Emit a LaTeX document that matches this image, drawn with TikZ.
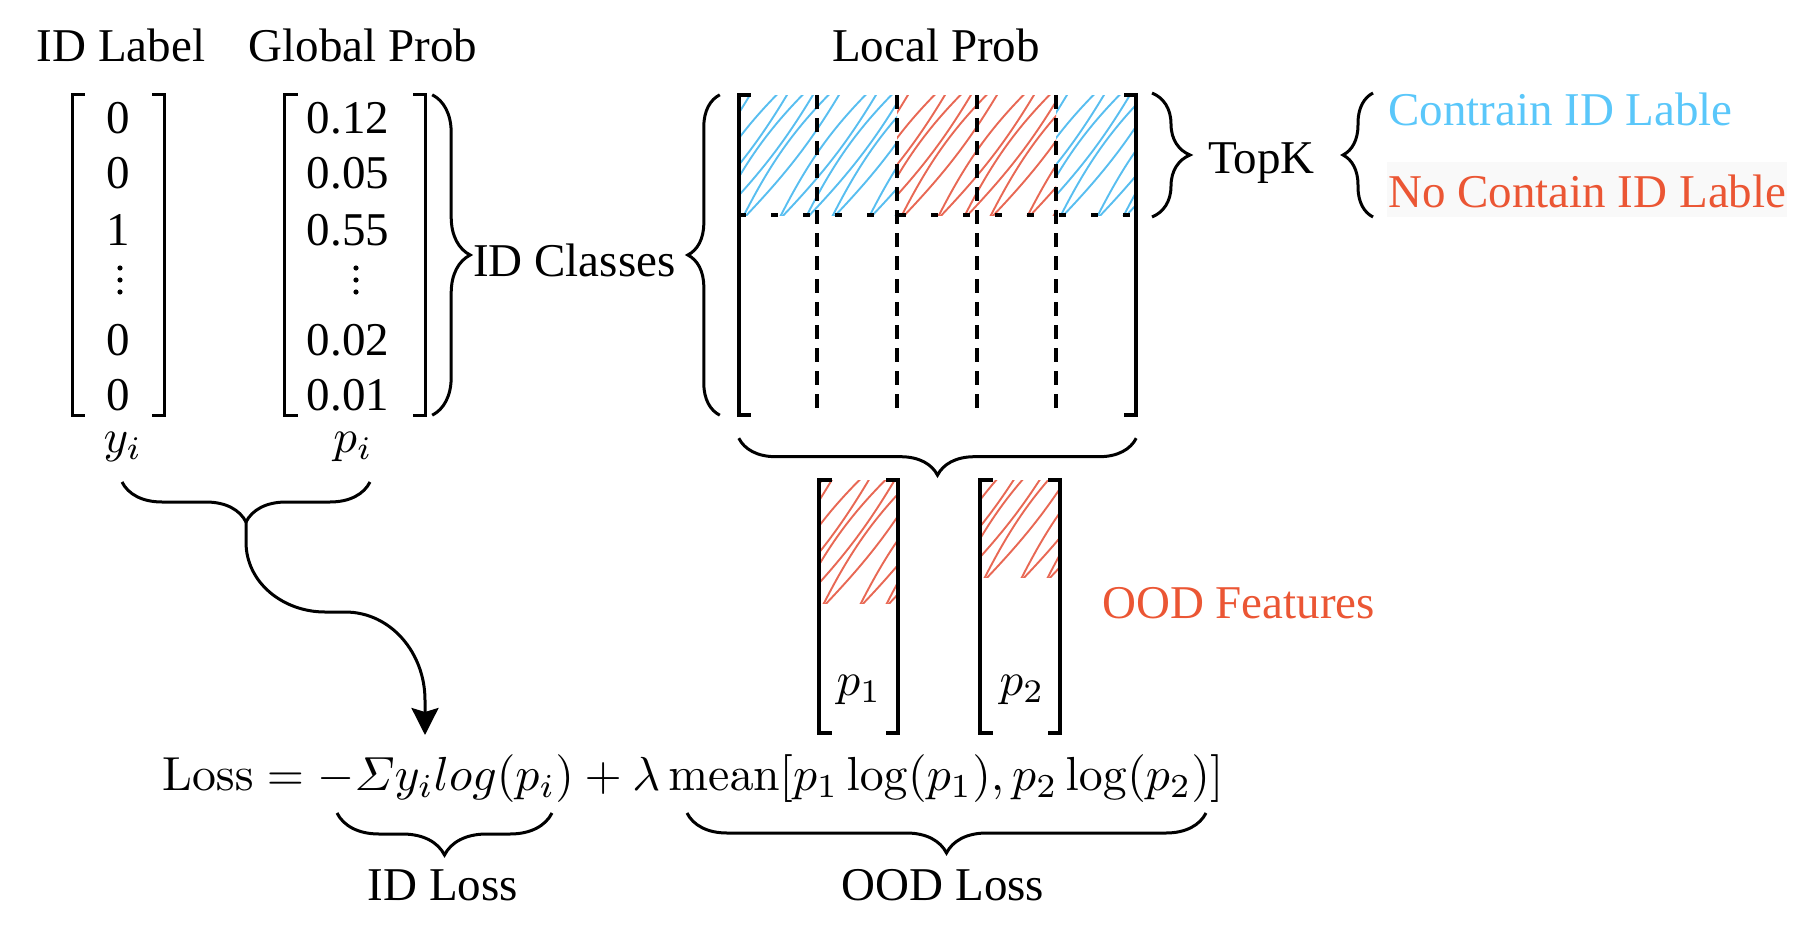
\RequirePackage{fix-cm}
\documentclass[tikz,border=0pt]{standalone}
\usepackage{amsmath}
\usepackage[no-math]{fontspec}
\setmainfont{Liberation Serif}
\usetikzlibrary{decorations.pathreplacing,arrows.meta,calc}
\definecolor{cblue}{RGB}{90,199,250}
\definecolor{cred}{RGB}{235,86,52}
\definecolor{hblue}{RGB}{88,190,240}
\definecolor{hred}{RGB}{232,104,84}
\definecolor{bggray}{RGB}{249,249,249}
\newcommand{\bigmath}[2][4.7]{\scalebox{#1}{$#2$}}
\newcommand{\hatchfill}[5]{%
  \begin{scope}
    \clip (#1,#2) rectangle (#3,#4);
    \foreach \k in {0,...,11}{
      \pgfmathsetmacro{\xs}{#1-150+\k*30+mod(\k*7,11)}
      \draw[#5,line width=1.9pt,line cap=round] (\xs,{#4+6}) to[bend left=10] ++(112,-150);
      \draw[#5,line width=1.9pt,line cap=round] (\xs,{#4+6}) to[bend right=7] ++(112,-150);
    }
  \end{scope}}
\begin{document}
\begin{tikzpicture}[x=1pt,y=-1pt,
  every node/.style={font=\fontsize{47}{56}\selectfont, inner sep=0pt},
  mnode/.style={font=\fontsize{10}{12}\selectfont, inner sep=0pt},
  matbox/.style={draw=none, rectangle, inner sep=0pt},
  brk/.style={line width=3pt, line join=miter},
  bbrk/.style={line width=4pt, line join=miter},
  curly/.style={decorate, decoration={brace, amplitude=#1}, line width=3pt},
  vdash/.style={line width=3.5pt, dash pattern=on 14pt off 9pt},
  hdash/.style={line width=4pt, dash pattern=on 7pt off 25pt},
  vdot/.style={fill=black}
]
\useasboundingbox (0,0) rectangle (1818,934);

% ---------- headings ----------
\node[anchor=base] (hid) at (121,62) {ID Label};
\node[anchor=base] (hglob) at (363,62) {Global Prob};
\node[anchor=base] (hloc) at (936,62) {Local Prob};

% ---------- y_i matrix ----------
\node[matbox, minimum width=91pt, minimum height=320pt] (ymat) at (118.5,255) {};
\draw[brk] ([xshift=12pt]ymat.north west) -- (ymat.north west) -- (ymat.south west) -- ([xshift=12pt]ymat.south west);
\draw[brk] ([xshift=-12pt]ymat.north east) -- (ymat.north east) -- (ymat.south east) -- ([xshift=-12pt]ymat.south east);
\node[anchor=base] (ya) at (118,133) {0};
\node[anchor=base] (yb) at (118,188) {0};
\node[anchor=base] (yc) at (118,245) {1};
\fill[vdot] (120,268) circle (2.6pt) (120,280) circle (2.6pt) (120,292) circle (2.6pt);
\node[anchor=base] (yd) at (118,355) {0};
\node[anchor=base] (ye) at (118,410) {0};
\node[mnode, anchor=base] (ylab) at (123,452) {\bigmath{y_i}};

% ---------- p_i matrix ----------
\node[matbox, minimum width=140pt, minimum height=320pt] (pmat) at (355,255) {};
\draw[brk] ([xshift=13pt]pmat.north west) -- (pmat.north west) -- (pmat.south west) -- ([xshift=13pt]pmat.south west);
\draw[brk] ([xshift=-12pt]pmat.north east) -- (pmat.north east) -- (pmat.south east) -- ([xshift=-12pt]pmat.south east);
\node[anchor=base] (pa) at (348,133) {0.12};
\node[anchor=base] (pb) at (348,188) {0.05};
\node[anchor=base] (pc) at (348,245) {0.55};
\fill[vdot] (356,268) circle (2.6pt) (356,280) circle (2.6pt) (356,292) circle (2.6pt);
\node[anchor=base] (pd) at (348,355) {0.02};
\node[anchor=base] (pe) at (348,410) {0.01};
\node[mnode, anchor=base] (plab) at (353,452) {\bigmath{p_i}};

% ID classes brace
\node[anchor=base west] (idc) at (473,276) {ID Classes};
\draw[curly=38] ([xshift=7pt]pmat.north east) -- ([xshift=7pt]pmat.south east);

% ---------- local prob matrix ----------
\node[matbox, minimum width=397pt, minimum height=320pt] (lmat) at (937.5,255) {};
\hatchfill{739}{95}{897}{215}{hblue}
\hatchfill{897}{95}{1056}{215}{hred}
\hatchfill{1056}{95}{1136}{215}{hblue}
\foreach \xx in {817,897,977,1056} \draw[vdash] (\xx,95) -- (\xx,415);
\draw[hdash] (739,215) -- (1136,215);
\draw[bbrk] ([xshift=12pt]lmat.north west) -- (lmat.north west) -- (lmat.south west) -- ([xshift=12pt]lmat.south west);
\draw[bbrk] ([xshift=-12pt]lmat.north east) -- (lmat.north east) -- (lmat.south east) -- ([xshift=-12pt]lmat.south east);
\draw[curly=32] ([xshift=-19pt]lmat.south west) -- ([xshift=-19pt]lmat.north west);

% TopK braces and labels
\draw[curly=38] (1152,93) -- (1152,217);
\node[anchor=base west] (topk) at (1208,173) {TopK};
\draw[curly=30] (1373,217) -- (1373,93);
\node[anchor=base west, text=cblue] (cont) at (1388,125) {Contrain ID Lable};
\node[anchor=base west, fill=bggray, inner xsep=1pt, inner ysep=0pt, text height=45pt, text depth=10pt, text=cred] (nocont) at (1387,207) {No Contain ID Lable};

% brace under local matrix
\draw[curly=37] ([yshift=-23pt]lmat.south east) -- ([yshift=-23pt]lmat.south west);

% ---------- OOD features ----------
\node[matbox, minimum width=79pt, minimum height=253pt] (p1mat) at (858.5,606.5) {};
\node[matbox, minimum width=80pt, minimum height=253pt] (p2mat) at (1020,606.5) {};
\hatchfill{819}{480}{898}{603}{hred}
\hatchfill{980}{480}{1060}{577}{hred}
\foreach \m in {p1mat,p2mat}{
  \draw[bbrk] ([xshift=13pt]\m.north west) -- (\m.north west) -- (\m.south west) -- ([xshift=13pt]\m.south west);
  \draw[bbrk] ([xshift=-12pt]\m.north east) -- (\m.north east) -- (\m.south east) -- ([xshift=-12pt]\m.south east);
}
\node[mnode, anchor=base] (p1l) at (859,695) {\bigmath{p_1}};
\node[mnode, anchor=base] (p2l) at (1022,695) {\bigmath{p_2}};
\node[anchor=base west, text=cred] (oodf) at (1102,618) {OOD Features};

% ---------- brace under y_i, p_i and arrow ----------
\draw[curly=40] (370,482) -- (122,482);
\coordinate (bt) at (246,522);
\coordinate (ae) at (425,735);
\draw[line width=3pt, -{Stealth[length=27pt,width=27pt,inset=4pt]}]
  (bt) -- (246,542) to[out=-90,in=180] (325,612) -- (345,612) to[out=0,in=90] (425,700) -- (ae);

% ---------- formula ----------
\node[mnode, anchor=base west] (loss) at (162,790)
  {\bigmath[4.78]{\mathrm{Loss} = -\varSigma y_i log(p_i) + \lambda\,\mathrm{mean}[p_1\log(p_1), p_2\log(p_2)]}};
\draw[curly=42] (552,813) -- (337,813);
\draw[curly=40] (1206,813) -- (687,813);
\node[anchor=base] (idl) at (443,900) {ID Loss};
\node[anchor=base] (oodl) at (943,900) {OOD Loss};
\end{tikzpicture}
\end{document}
